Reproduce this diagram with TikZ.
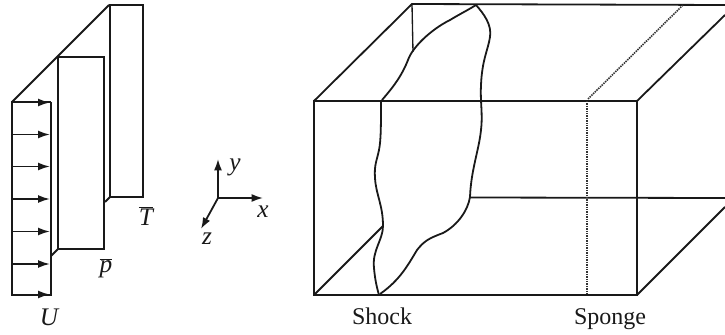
\documentclass[tikz,border=0pt]{standalone}
\usepackage{fontspec}
\setmainfont{Liberation Serif}
\usetikzlibrary{arrows.meta}
\tikzset{
  ln/.style={line width=1.35pt,line join=miter,black!90},
  thin ln/.style={line width=1pt,black!90},
  arr/.style={line width=1.35pt,black!90,-{Latex[length=9pt,width=6pt]}},
  axis/.style={line width=1.35pt,black!90,-{Latex[length=8.5pt,width=6pt]}},
  dots/.style={line width=1.2pt,black!80,dash pattern=on 1.1pt off 0.7pt},
  lab/.style={inner sep=0pt,anchor=base,font=\fontsize{18}{18}\selectfont,black!90},
  var/.style={inner sep=0pt,font=\fontsize{19}{19}\selectfont\itshape,black!90},
}
\begin{document}
\begin{tikzpicture}[x=0.75pt,y=-0.75pt]
\useasboundingbox (0,0) rectangle (725,335);
% U profile
\coordinate (ua) at (12,102); \coordinate (ub) at (12,295);
\coordinate (uc) at (51,102); \coordinate (ud) at (51,295);
\draw[ln] (uc) -- (ua) -- (ub) -- (ud) -- (uc);
\foreach \y in {102.5,134.5,166.5,199,231.5,264,294.5}
  \draw[arr] (12,\y) -- (50,\y);
\coordinate (tl) at (109,5);
\draw[ln] (ua) -- (tl);
% p profile
\draw[ln] (58,249) -- (58,57) -- (104,57) -- (104,249) -- cycle;
\draw[ln] (51,256) -- (58,249);
% T profile
\draw[ln] (110,197) -- (110,5) -- (143,5) -- (143,197) -- cycle;
\draw[ln] (105,202) -- (110,197);
\node[var] (T) at (146,216) {$\overline{\hbox{T}}$};
\node[var] (p) at (106,268) {$\overline{\hbox{p}}$};
\node[var] (U) at (49,317) {U};
% axes
\coordinate (o) at (218,198);
\coordinate (ay) at (218,159);
\coordinate (ax) at (263,198);
\coordinate (az) at (201,229);
\draw[axis] (o) -- (ay);
\draw[axis] (o) -- (ax);
\draw[axis] (o) -- (az);
\node[var] (ly) at (235,167) {y};
\node[var] (lx) at (263,212) {x};
\node[var] (lz) at (207,239) {z};
% box
\coordinate (fa) at (314,101); \coordinate (fb) at (637,101);
\coordinate (fc) at (637,295); \coordinate (fd) at (314,295);
\draw[ln] (fa) -- (fb) -- (fc) -- (fd) -- cycle;
\coordinate (ba) at (412,4);
\draw[ln] (fa) -- (ba) -- (725,5);
\draw[ln] (fb) -- (725,15);
\draw[ln] (fc) -- (725,207);
\draw[ln] (470,197.5) -- (725,198);
\draw[thin ln] (ba) -- (413,52);
\draw[ln] (fd) -- (383,226);
% shock
\draw[ln] (381,101) .. controls (381,125) and (381,140) .. (379,150)
  .. controls (377,160) and (374,165) .. (375,178)
  .. controls (376,195) and (383,205) .. (383,226)
  .. controls (383,240) and (372,250) .. (374,268)
  .. controls (375,280) and (377,288) .. (379,295);
\draw[ln] (382,100) .. controls (395,85) and (402,75) .. (408,60)
  .. controls (412,48) and (430,30) .. (450,20)
  .. controls (460,14) and (468,10) .. (476,5)
  .. controls (484,14) and (492,25) .. (490,37)
  .. controls (488,50) and (482,60) .. (481,85)
  .. controls (480,100) and (483,115) .. (481,130)
  .. controls (479,150) and (471,170) .. (470,197)
  .. controls (468,210) and (458,225) .. (443,233)
  .. controls (430,238) and (425,240) .. (417,250)
  .. controls (408,265) and (400,280) .. (380,294);
% sponge
\draw[dots] (587,101) -- (587,295);
\draw[dots] (588,99) -- (683,5);
\node[lab] (shock) at (382,324) {Shock};
\node[lab] (sponge) at (610,324) {Sponge};
\end{tikzpicture}
\end{document}
